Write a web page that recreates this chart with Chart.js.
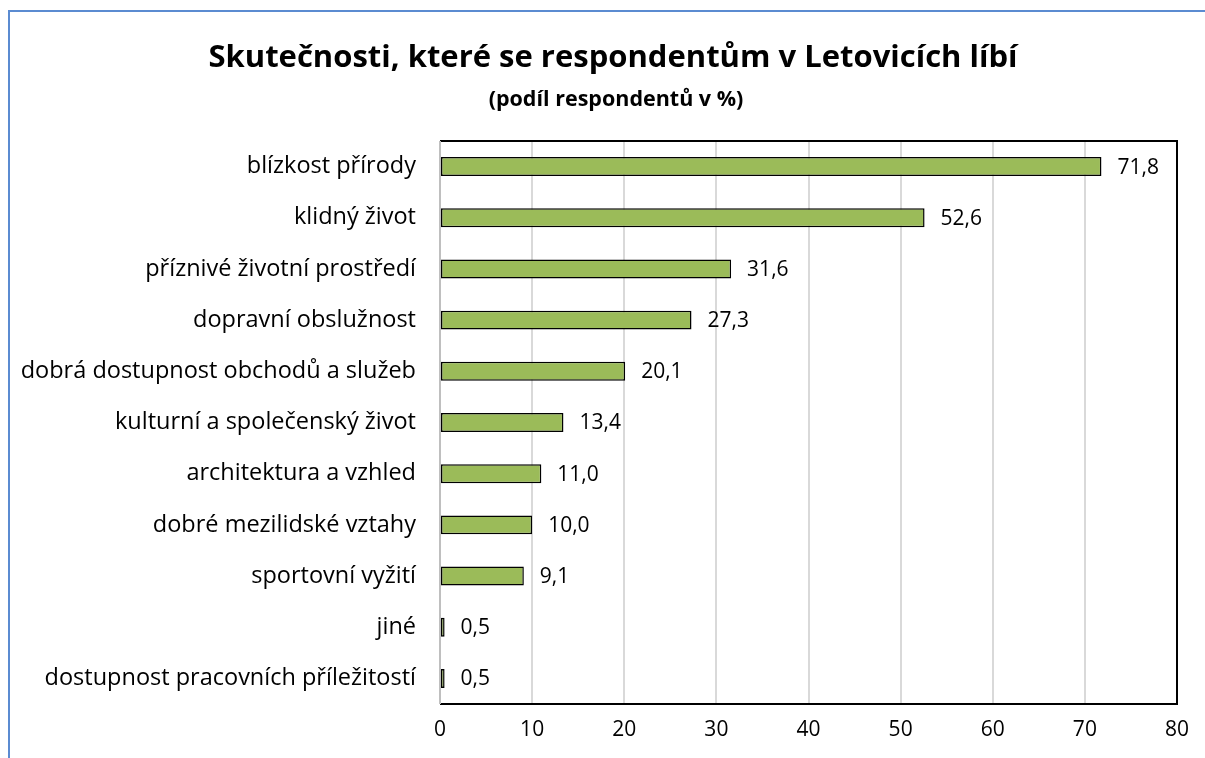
<!DOCTYPE html>
<html>
<head>
<meta charset="utf-8">
<script src="https://cdn.jsdelivr.net/npm/chart.js@4.4.0/dist/chart.umd.min.js"></script>
<style>
  html, body { margin: 0; padding: 0; background: #fff; }
  #wrap { position: relative; width: 1205px; height: 758px; overflow: hidden; }
  #frame { position: absolute; left: 8px; top: 10px; width: 1300px; height: 800px;
           border-left: 2px solid #5b8bd1; border-top: 2px solid #5b8bd1; }
  canvas { position: absolute; left: 0; top: 0; }
</style>
</head>
<body>
<div id="wrap">
  <div id="frame"></div>
  <canvas id="likesChart" width="1205" height="758"></canvas>
</div>
<script>
const titleText = 'Skutečnosti, které se respondentům v Letovicích líbí';
const subtitleText = '(podíl respondentů v %)';

const categories = [
  'blízkost přírody',
  'klidný život',
  'příznivé životní prostředí',
  'dopravní obslužnost',
  'dobrá dostupnost obchodů a služeb',
  'kulturní a společenský život',
  'architektura a vzhled',
  'dobré mezilidské vztahy',
  'sportovní vyžití',
  'jiné',
  'dostupnost pracovních příležitostí'
];
const shares = [71.8, 52.6, 31.6, 27.3, 20.1, 13.4, 11.0, 10.0, 9.1, 0.5, 0.5];
const xTicks = [0, 10, 20, 30, 40, 50, 60, 70, 80];

const FONT = '"Open Sans", Lato, sans-serif';

// titles drawn at fixed spots above the plot
const titlePlugin = {
  id: 'titles',
  afterDraw(chart) {
    const ctx = chart.ctx;
    ctx.save();
    ctx.fillStyle = '#000';
    ctx.textAlign = 'center';
    ctx.textBaseline = 'middle';
    ctx.font = 'bold 31px ' + FONT;
    ctx.fillText(titleText, 613, 58);
    ctx.font = 'bold 21.5px ' + FONT;
    ctx.fillText(subtitleText, 616, 100);
    ctx.restore();
  }
};

// plot frame: black top/right/bottom, grey left axis
const framePlugin = {
  id: 'plotFrame',
  afterDatasetsDraw(chart) {
    const a = chart.chartArea;
    const ctx = chart.ctx;
    ctx.save();
    ctx.lineWidth = 2;
    ctx.strokeStyle = '#000';
    ctx.beginPath();
    ctx.moveTo(a.left, a.top);
    ctx.lineTo(a.right, a.top);
    ctx.lineTo(a.right, a.bottom);
    ctx.lineTo(a.left, a.bottom);
    ctx.stroke();
    ctx.strokeStyle = '#bfbfbf';
    ctx.beginPath();
    ctx.moveTo(a.left, a.top);
    ctx.lineTo(a.left, a.bottom);
    ctx.stroke();
    ctx.restore();
  }
};

// value labels right of each bar
const valueLabels = {
  id: 'valueLabels',
  afterDatasetsDraw(chart) {
    const ctx = chart.ctx;
    const meta = chart.getDatasetMeta(0);
    ctx.save();
    ctx.font = '21px ' + FONT;
    ctx.fillStyle = '#000';
    ctx.textAlign = 'left';
    ctx.textBaseline = 'middle';
    meta.data.forEach((bar, i) => {
      const txt = shares[i].toFixed(1).replace('.', ',');
      ctx.fillText(txt, bar.x + 16, bar.y + 1);
    });
    ctx.restore();
  }
};

const ctx = document.getElementById('likesChart').getContext('2d');
new Chart(ctx, {
  type: 'bar',
  data: {
    labels: categories,
    datasets: [{
      data: shares,
      backgroundColor: '#9bbb59',
      borderColor: '#000',
      borderWidth: 1.5,
      borderSkipped: false,
      barPercentage: 0.37,
      categoryPercentage: 1.0
    }]
  },
  options: {
    indexAxis: 'y',
    responsive: false,
    animation: false,
    layout: { padding: { top: 141, right: 28, bottom: 0, left: 0 } },
    plugins: {
      legend: { display: false },
      tooltip: { enabled: false },
      title: { display: false }
    },
    scales: {
      x: {
        min: 0,
        max: 80,
        afterBuildTicks(scale) {
          scale.ticks = xTicks.map(v => ({ value: v }));
        },
        afterFit(scale) { scale.height = 54; },
        grid: {
          color: ctx => (ctx.tick && (ctx.tick.value === 0 || ctx.tick.value === 80)) ? 'rgba(0,0,0,0)' : '#d9d9d9',
          lineWidth: 2,
          drawTicks: false
        },
        border: { display: false },
        ticks: {
          color: '#000',
          font: { family: FONT, size: 21 },
          padding: 13,
          maxRotation: 0
        }
      },
      y: {
        afterFit(scale) { scale.width = 440; },
        grid: { display: false, drawTicks: false },
        border: { display: false },
        ticks: {
          color: '#000',
          font: { family: FONT, size: 23.5 },
          padding: 24,
          autoSkip: false
        }
      }
    }
  },
  plugins: [titlePlugin, framePlugin, valueLabels]
});
</script>
</body>
</html>
